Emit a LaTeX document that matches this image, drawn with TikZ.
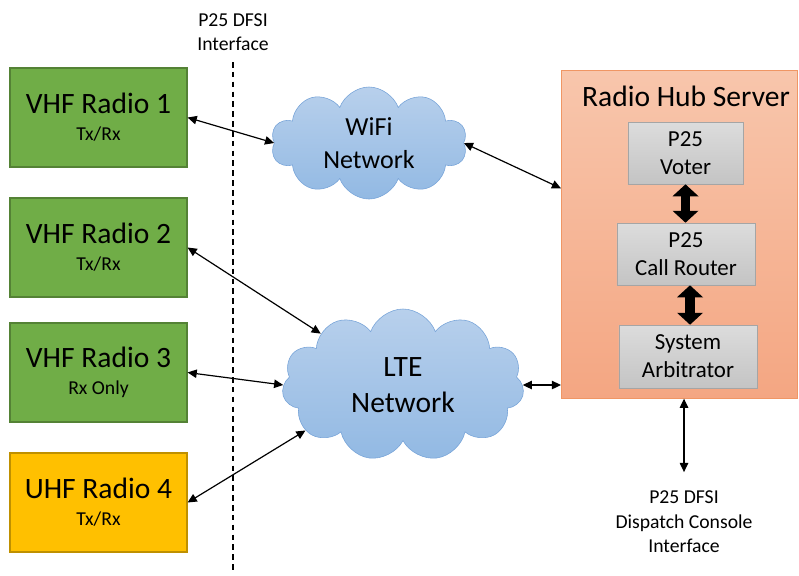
\documentclass[tikz,border=0pt]{standalone}
\usepackage{fontspec}
\setmainfont{Carlito}
\definecolor{radiogreen}{RGB}{112, 173, 71}
\definecolor{radiogreenedge}{RGB}{84, 130, 53}
\definecolor{uhfamber}{RGB}{255, 192, 0}
\definecolor{uhfamberedge}{RGB}{191, 144, 0}
\definecolor{cloudtop}{RGB}{184, 208, 236}
\definecolor{cloudbot}{RGB}{146, 185, 227}
\definecolor{cloudedge}{RGB}{118, 163, 216}
\definecolor{hubtop}{RGB}{248, 198, 172}
\definecolor{hubbot}{RGB}{244, 166, 130}
\definecolor{hubedge}{RGB}{240, 150, 100}
\definecolor{parttop}{RGB}{220, 220, 220}
\definecolor{partbot}{RGB}{196, 196, 196}
\definecolor{partedge}{RGB}{165, 165, 165}
\usetikzlibrary{shapes.symbols, arrows.meta, calc}

\begin{document}
\begin{tikzpicture}[x=0.025cm, y=-0.025cm,
    radiobox/.style={draw=radiogreenedge, fill=radiogreen, line width=0.8pt, minimum width=4.425cm, minimum height=2.475cm, inner sep=0pt, align=center, font=\fontsize{21}{22}\selectfont},
    netcloud/.style={cloud, cloud puffs=10, cloud puff arc=140, cloud ignores aspect, draw=cloudedge, top color=cloudtop, bottom color=cloudbot, inner sep=0pt, align=center},
    hubpart/.style={draw=partedge, top color=parttop, bottom color=partbot, minimum height=1.55cm, inner sep=0pt, align=center, font=\fontsize{16.3}{20}\selectfont},
    note/.style={align=center, font=\fontsize{14}{17.4}\selectfont},
    link/.style={{Triangle[length=6.5pt, width=6pt]}-{Triangle[length=6.5pt, width=6pt]}, line width=0.85pt},
    fatlink/.style={{Triangle[length=8.5pt, width=18pt]}-{Triangle[length=8.5pt, width=18pt]}, line width=6.5pt}]
  \useasboundingbox (0,0) rectangle (799,575);

  % DFSI boundary
  \node[note] (dfsi) at (233,32) {P25 DFSI\\Interface};
  \coordinate (dfsitop) at (233,62);
  \coordinate (dfsibot) at (233,571);
  \draw[line width=0.9pt, dash pattern=on 4pt off 3pt] (dfsitop) -- (dfsibot);

  % Radios
  \node[radiobox] (r1) at (98.5,117.5) {VHF Radio 1\\[-3pt]{\fontsize{14}{17}\selectfont Tx/Rx}};
  \node[radiobox] (r2) at (98.5,247.5) {VHF Radio 2\\[-3pt]{\fontsize{14}{17}\selectfont Tx/Rx}};
  \node[radiobox] (r3) at (98.5,372.5) {VHF Radio 3\\[-3pt]{\fontsize{14}{17}\selectfont Rx Only}};
  \node[radiobox, draw=uhfamberedge, fill=uhfamber] (r4) at (98.5,502.5) {UHF Radio 4\\[-3pt]{\fontsize{14}{17}\selectfont Tx/Rx}};

  % Networks
  \node[netcloud, minimum width=4.9cm, minimum height=2.8cm, font=\fontsize{18.5}{23.4}\selectfont] (wifi) at (369,143) {WiFi\\Network};
  \node[netcloud, cloud puffs=11, minimum width=6.05cm, minimum height=3.8cm, font=\fontsize{21}{26}\selectfont] (lte) at (403,385) {LTE\\Network};

  % Radio Hub Server
  \node[draw=hubedge, top color=hubtop, bottom color=hubbot, minimum width=5.9cm, minimum height=8.2cm, inner sep=0pt, anchor=north west] (hub) at (561,70) {};
  \node[font=\fontsize{21}{22}\selectfont] (hubtitle) at (686,96) {Radio Hub Server};
  \node[hubpart, minimum width=2.875cm] (voter) at (685.5,153) {P25\\Voter};
  \node[hubpart, minimum width=3.45cm] (router) at (686,254) {P25\\Call Router};
  \node[hubpart, minimum width=3.45cm, minimum height=1.575cm] (arbiter) at (688,356.5) {System\\Arbitrator};
  \draw[fatlink] (voter.south) -- (voter.south |- router.north);
  \draw[fatlink] ([xshift=0.1cm]router.south) -- ([xshift=0.1cm]router.south |- arbiter.north);

  % Dispatch console
  \node[note] (console) at (684,522) {P25 DFSI\\Dispatch Console\\Interface};

  % Links
  \draw[link] (r1.east) -- (wifi.west);
  \draw[link] (wifi.east) -- ($(hub.north west)!0.36!(hub.south west)$);
  \draw[link] (r2.east) -- (lte.148);
  \draw[link] (r3.east) -- (lte.west);
  \draw[link] (r4.east) -- (lte.205);
  \draw[link] (lte.east) -- (lte.east -| hub.west);
  \draw[link] (console.north |- hub.south) -- ([yshift=0.35cm]console.north);
\end{tikzpicture}
\end{document}
